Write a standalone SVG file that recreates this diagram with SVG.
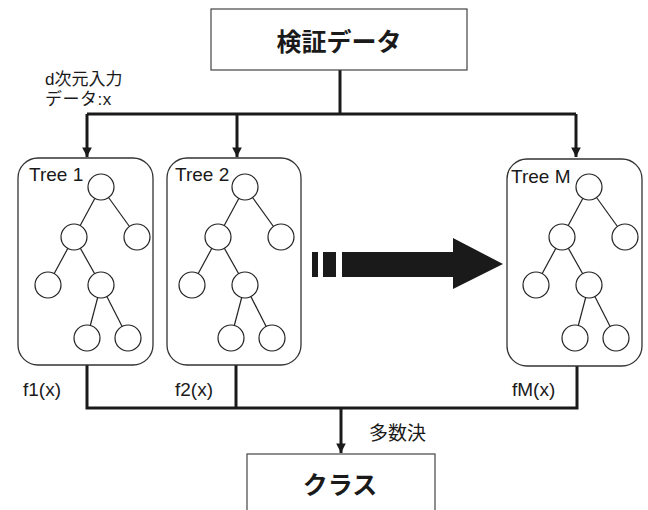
<svg xmlns="http://www.w3.org/2000/svg" width="648" height="510" viewBox="0 0 648 510">
<style>
text{font-family:"Liberation Sans","Noto Sans CJK JP",sans-serif;fill:#1a1a1a}
.box{fill:#fff;stroke:#444;stroke-width:1.2}
.tbox{fill:#fff;stroke:#333;stroke-width:1.3}
.conn{fill:none;stroke:#1a1a1a;stroke-width:3}
.edge{stroke:#222;stroke-width:1.2}
.nd{fill:#fff;stroke:#222;stroke-width:1.2}
.big{font-size:25px;font-weight:bold}
.lbl{font-size:19px}
.sm{font-size:17px}
</style>
<defs>
<marker id="ah" viewBox="0 0 10 10" refX="10" refY="5" markerWidth="3.2" markerHeight="3.2" orient="auto" markerUnits="strokeWidth">
<path d="M0,0 L10,5 L0,10 Z" fill="#1a1a1a"/>
</marker>
<g id="tree">
<line class="edge" x1="0" y1="0" x2="-27" y2="50"/>
<line class="edge" x1="0" y1="0" x2="36" y2="50"/>
<line class="edge" x1="-27" y1="50" x2="-53" y2="98"/>
<line class="edge" x1="-27" y1="50" x2="0" y2="98"/>
<line class="edge" x1="0" y1="98" x2="-14" y2="151"/>
<line class="edge" x1="0" y1="98" x2="27" y2="151"/>
<circle class="nd" cx="0" cy="0" r="13"/>
<circle class="nd" cx="-27" cy="50" r="13"/>
<circle class="nd" cx="36" cy="50" r="13"/>
<circle class="nd" cx="-53" cy="98" r="13"/>
<circle class="nd" cx="0" cy="98" r="13"/>
<circle class="nd" cx="-14" cy="151" r="13"/>
<circle class="nd" cx="27" cy="151" r="13"/>
</g>
</defs>
<g id="connectors">
<path class="conn" d="M340,70 V114"/>
<path class="conn" d="M87,114 H576"/>
<path class="conn" d="M87,114 V157" marker-end="url(#ah)"/>
<path class="conn" d="M237,114 V157" marker-end="url(#ah)"/>
<path class="conn" d="M576,114 V157" marker-end="url(#ah)"/>
<path class="conn" d="M87,365 V408 H577 V365"/>
<path class="conn" d="M236,365 V408"/>
<path class="conn" d="M341,408 V453" marker-end="url(#ah)"/>
</g>
<g id="input">
<rect class="box" x="211" y="9" width="256" height="61"/>
<text class="big" x="339" y="51" text-anchor="middle">検証データ</text>
</g>
<g id="tree1">
<rect class="tbox" x="18" y="158" width="135" height="207" rx="20"/>
<text class="lbl" x="29" y="181">Tree 1</text>
<use href="#tree" x="101" y="187"/>
</g>
<g id="tree2">
<rect class="tbox" x="167" y="158" width="134" height="207" rx="20"/>
<text class="lbl" x="175" y="181">Tree 2</text>
<use href="#tree" x="245" y="187"/>
</g>
<g id="treeM">
<rect class="tbox" x="507" y="159" width="135" height="207" rx="20"/>
<text class="lbl" x="511" y="183">Tree M</text>
<use href="#tree" x="589" y="187"/>
</g>
<g id="ellipsis">
<rect x="312" y="252" width="6" height="25" fill="#1a1a1a"/>
<rect x="323" y="252" width="13" height="25" fill="#1a1a1a"/>
<polygon points="342,252 453,252 453,238 503,264 453,289 453,277 342,277" fill="#1a1a1a"/>
</g>
<g id="output">
<rect class="box" x="247" y="454" width="188" height="70"/>
<text class="big" x="340" y="494" text-anchor="middle" font-size="24">クラス</text>
</g>
<g id="labels">
<text class="sm" x="45" y="85">d次元入力</text>
<text class="sm" x="45" y="105" letter-spacing="0.5">データ:x</text>
<text class="lbl" x="23" y="396">f1(x)</text>
<text class="lbl" x="175" y="396">f2(x)</text>
<text class="lbl" x="512" y="396">fM(x)</text>
<text class="lbl" x="369" y="440">多数決</text>
</g>
</svg>
